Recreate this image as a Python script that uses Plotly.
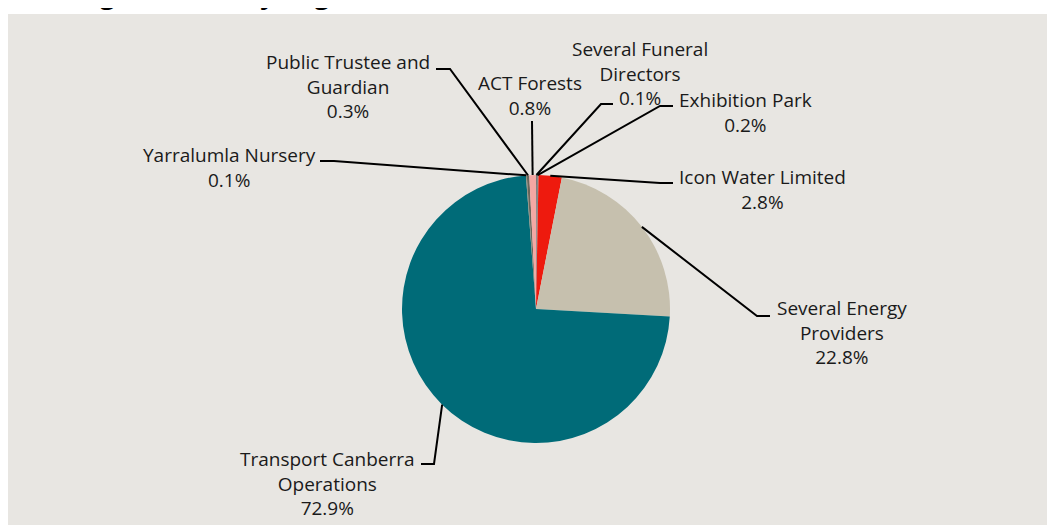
import math
import plotly.graph_objects as go

# ---------------- data ----------------
labels = ["Several Funeral Directors", "Exhibition Park", "Icon Water Limited",
          "Several Energy Providers", "Transport Canberra Operations",
          "Yarralumla Nursery", "Public Trustee and Guardian", "ACT Forests"]
label_lines = [["Several Funeral", "Directors"], ["Exhibition Park"], ["Icon Water Limited"],
               ["Several Energy", "Providers"], ["Transport Canberra", "Operations"],
               ["Yarralumla Nursery"], ["Public Trustee and", "Guardian"], ["ACT Forests"]]
values = [0.1, 0.2, 2.8, 22.8, 72.9, 0.1, 0.3, 0.8]
colors = ["#5A5A5A", "#8A8A8A", "#EE1A0E", "#C6C0AE", "#006B78",
          "#8C8A78", "#6A655A", "#F4A7A3"]
title_text = "Funding Received by Organisation"

# ---------------- layout geometry ----------------
W, H = 1055, 525
OFF = 8  # page body margin
CX, CY, R = 536, 309, 134  # pie centre / radius in page pixels

def px(x):
    return (x - OFF) / W

def py(y):
    return 1 - (y - OFF) / H

# label placement (page pixels): text centre, elbow, line end at the text
label_pos = {
    "Several Funeral Directors": dict(t=(640, 73), e=(601, 104), l=(613, 104)),
    "Exhibition Park": dict(t=(745, 112), e=(660, 106), l=(673, 106)),
    "Icon Water Limited": dict(t=(762, 189), e=(660, 183), l=(673, 183)),
    "Several Energy Providers": dict(t=(842, 332), e=(757, 316), l=(770, 316)),
    "Transport Canberra Operations": dict(t=(327, 483), e=(434, 464), l=(421, 464)),
    "Yarralumla Nursery": dict(t=(229, 167), e=(334, 161), l=(320, 161)),
    "Public Trustee and Guardian": dict(t=(348, 87), e=(450, 69), l=(436, 69)),
    "ACT Forests": dict(t=(530, 96), e=(532, 121), l=(532, 121)),
}

fig = go.Figure()
fig.add_trace(go.Pie(
    labels=labels, values=values, sort=False, direction="clockwise", rotation=0,
    marker=dict(colors=colors, line=dict(width=0)),
    textinfo="none", hoverinfo="label+percent",
    domain=dict(x=[px(CX - R), px(CX + R)], y=[py(CY + R), py(CY - R)]),
))

shapes = [dict(type="rect", xref="paper", yref="paper", x0=0, x1=1, y0=0, y1=py(14),
               fillcolor="#E8E6E2", line=dict(width=0), layer="below")]
annotations = []

total = sum(values)
cum = 0.0
for lab, lines, v in zip(labels, label_lines, values):
    mid = (cum + v / 2) / total * 2 * math.pi
    cum += v
    ex_ = CX + R * math.sin(mid)
    ey_ = CY - R * math.cos(mid)
    p = label_pos[lab]
    path = "M {} {} L {} {} L {} {}".format(px(ex_), py(ey_), px(p["e"][0]), py(p["e"][1]),
                                           px(p["l"][0]), py(p["l"][1]))
    shapes.append(dict(type="path", xref="paper", yref="paper", path=path,
                       line=dict(color="#000000", width=2)))
    txt = "<br>".join(lines + [f"{v:.1f}%"])
    annotations.append(dict(x=px(p["t"][0]), y=py(p["t"][1]), xref="paper", yref="paper",
                            text=txt, showarrow=False, xanchor="center", yanchor="middle",
                            align="center", font=dict(family="Open Sans", size=19, color="#1A1A1A")))

annotations.append(dict(x=px(8), y=py(14), xref="paper", yref="paper", text="<b>" + title_text + "</b>",
                        showarrow=False, xanchor="left", yanchor="bottom",
                        font=dict(family="Open Sans", size=26, color="#000000")))

fig.update_layout(width=W, height=H, margin=dict(l=0, r=0, t=0, b=0),
                  paper_bgcolor="#FFFFFF", plot_bgcolor="#FFFFFF", showlegend=False,
                  shapes=shapes, annotations=annotations)

fig.write_html("out.html")
